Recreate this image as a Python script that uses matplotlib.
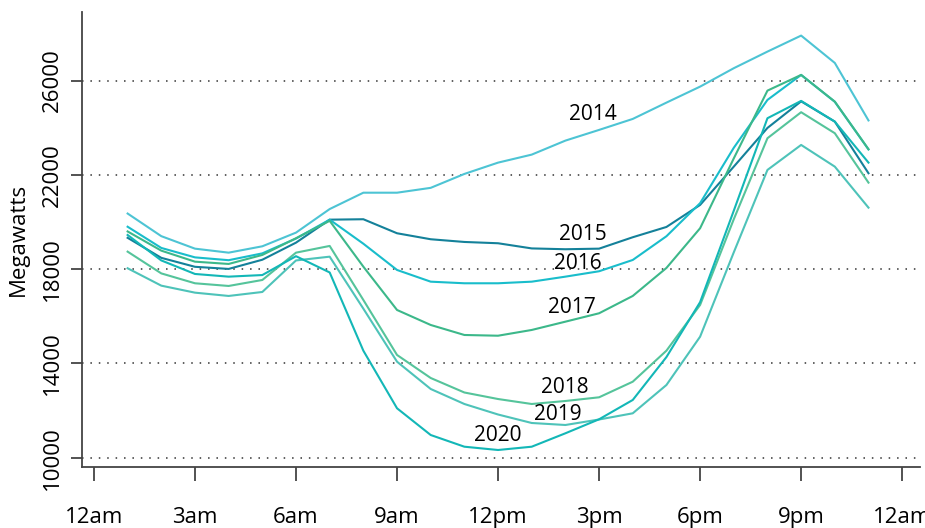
import matplotlib.pyplot as plt

plt.rcParams['font.family'] = ['Open Sans', 'DejaVu Sans']

hours = list(range(1, 24))
load_2014 = [20360, 19400, 18870, 18700, 18970, 19550, 20550, 21244, 21244, 21450, 22040, 22520,
             22860, 23454, 23908, 24374, 25066, 25745, 26526, 27231, 27910, 26750, 24310]
load_2015 = [19330, 18480, 18100, 18010, 18400, 19125, 20100, 20118, 19523, 19269, 19154, 19099,
             18880, 18845, 18870, 19354, 19790, 20725, 22350, 23992, 25120, 24260, 22070]
load_2016 = [19800, 18900, 18500, 18380, 18670, 19300, 20100, 19080, 17966, 17469, 17401, 17401,
             17469, 17682, 17911, 18390, 19396, 20800, 23150, 25181, 26242, 25100, 23080]
load_2017 = [19600, 18785, 18318, 18221, 18603, 19311, 20050, 18106, 16268, 15632, 15207, 15176,
             15420, 15772, 16128, 16863, 18051, 19736, 22700, 25575, 26242, 25109, 23089]
load_2018 = [18743, 17820, 17401, 17287, 17541, 18700, 18985, 16693, 14359, 13382, 12767, 12490,
             12279, 12406, 12563, 13225, 14541, 16481, 20118, 23555, 24659, 23768, 21671]
load_2019 = [18038, 17300, 17003, 16863, 17032, 18370, 18530, 16324, 14074, 12916, 12279, 11833,
             11473, 11388, 11621, 11884, 13085, 15135, 18713, 22210, 23271, 22350, 20610]
load_2020 = [19450, 18370, 17796, 17682, 17750, 18550, 17860, 14541, 12097, 10963, 10467, 10327,
             10467, 11036, 11630, 12450, 14270, 16600, 20480, 24404, 25139, 24260, 22520]

years = ['2014', '2015', '2016', '2017', '2018', '2019', '2020']
series = [load_2014, load_2015, load_2016, load_2017, load_2018, load_2019, load_2020]
colors = ['#4dc4d4', '#14819a', '#19bdcb', '#3cb88a', '#55c49b', '#4ec3b9', '#13b7b7']
# label positions (hour, MW)
label_x = [14.82, 14.52, 14.37, 14.2, 13.99, 13.78, 12.0]
label_y = [24544, 19451, 18221, 16353, 12958, 11854, 10921]

xtick_pos = [0, 3, 6, 9, 12, 15, 18, 21, 24]
xtick_lab = ['12am', '3am', '6am', '9am', '12pm', '3pm', '6pm', '9pm', '12am']
ytick_pos = [10000, 14000, 18000, 22000, 26000]

fig = plt.figure(figsize=(9.25, 5.28), dpi=100)
ax = fig.add_axes([0.0886, 0.1155, 0.906, 0.862])

for yv in ytick_pos:
    ax.axhline(yv, color='#333333', lw=1.1, ls=(0, (1, 4.5)), zorder=1)

for i in range(len(years)):
    ax.plot(hours, series[i], color=colors[i], lw=1.5, zorder=2)
    ax.text(label_x[i], label_y[i], years[i], fontsize=15, ha='center', va='center', color='black')

ax.set_xlim(-0.356, 24.53)
ax.set_ylim(9605, 28916)
ax.set_xticks(xtick_pos)
ax.set_xticklabels(xtick_lab, fontsize=16)
ax.set_yticks(ytick_pos)
ax.set_yticklabels([str(v) for v in ytick_pos], fontsize=16, rotation=90, va='center')
ax.tick_params(axis='x', length=10, width=1.3, color='#444444', pad=19)
ax.tick_params(axis='y', length=8, width=1.3, color='#444444', pad=6)
ax.set_ylabel('Megawatts', fontsize=16, labelpad=9)

for s in ['top', 'right']:
    ax.spines[s].set_visible(False)
for s in ['left', 'bottom']:
    ax.spines[s].set_color('#444444')
    ax.spines[s].set_linewidth(1.3)

plt.savefig('out.png', dpi=100)
